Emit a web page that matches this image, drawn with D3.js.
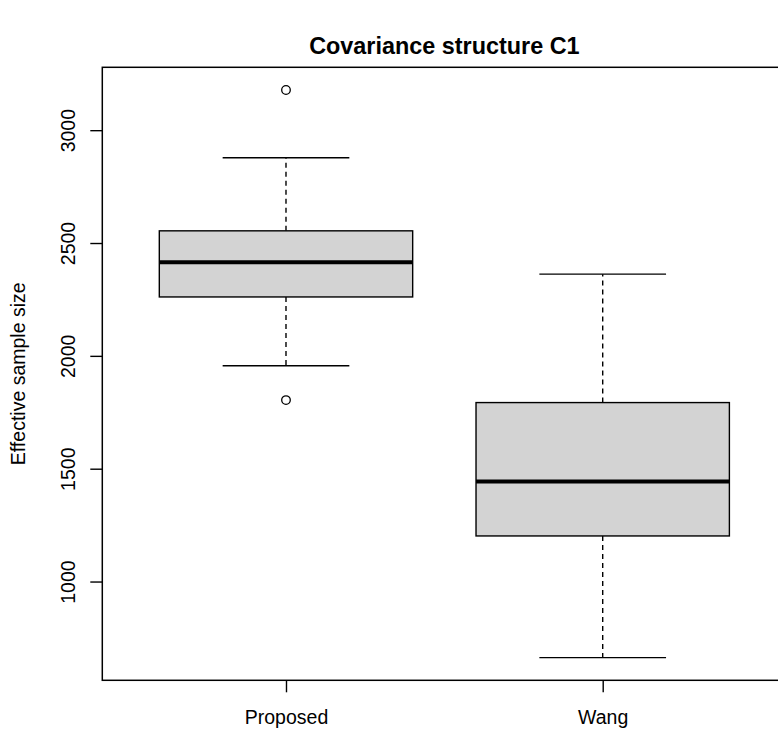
<!DOCTYPE html>
<html>
<head>
<meta charset="utf-8">
<script src="https://cdn.jsdelivr.net/npm/d3@7"></script>
<style>
  body { margin: 0; background: #fff; }
  svg text { font-family: "Liberation Sans", Arial, sans-serif; fill: #000; }
</style>
</head>
<body>
<svg id="chart"></svg>
<script>
// box statistics
const groups = ["Proposed", "Wang"];
const whiskerLow = [1956, 663];
const q1 = [2261, 1202];
const medians = [2415, 1443];
const q3 = [2554, 1793];
const whiskerHigh = [2878, 2362];
const outliers = [[3178, 1804], []];
const yTicks = [1000, 1500, 2000, 2500, 3000];

const width = 778, height = 730;
const margin = {top: 67.3, bottom: 680.3, left: 102.3, right: 786.4};

const svg = d3.select("#chart")
    .attr("width", width)
    .attr("height", height);

// R style range: extend 4% either side
const allVals = whiskerLow.concat(whiskerHigh, outliers.flat());
const lo = d3.min(allVals), hi = d3.max(allVals);
const pad = (hi - lo) * 0.04;

const y = d3.scaleLinear()
    .domain([lo - pad, hi + pad])
    .range([margin.bottom, margin.top]);

const x = d3.scaleLinear()
    .domain([0.42, 2.58])
    .range([margin.left, margin.right]);

const boxHalf = 0.4, stapleHalf = 0.2;

const boxes = svg.selectAll("g.box")
    .data(groups)
    .enter()
    .append("g")
    .attr("class", "box");

// whiskers (dashed)
boxes.append("line")
    .attr("x1", (d, i) => x(i + 1)).attr("x2", (d, i) => x(i + 1))
    .attr("y1", (d, i) => y(q3[i])).attr("y2", (d, i) => y(whiskerHigh[i]))
    .attr("stroke", "#000").attr("stroke-width", 1.4)
    .attr("stroke-dasharray", "5,4");
boxes.append("line")
    .attr("x1", (d, i) => x(i + 1)).attr("x2", (d, i) => x(i + 1))
    .attr("y1", (d, i) => y(q1[i])).attr("y2", (d, i) => y(whiskerLow[i]))
    .attr("stroke", "#000").attr("stroke-width", 1.4)
    .attr("stroke-dasharray", "5,4");

// staples
[whiskerHigh, whiskerLow].forEach(function(arr) {
  boxes.append("line")
      .attr("x1", (d, i) => x(i + 1 - stapleHalf))
      .attr("x2", (d, i) => x(i + 1 + stapleHalf))
      .attr("y1", (d, i) => y(arr[i]))
      .attr("y2", (d, i) => y(arr[i]))
      .attr("stroke", "#000").attr("stroke-width", 1.4);
});

// box body
boxes.append("rect")
    .attr("x", (d, i) => x(i + 1 - boxHalf))
    .attr("width", (d, i) => x(i + 1 + boxHalf) - x(i + 1 - boxHalf))
    .attr("y", (d, i) => y(q3[i]))
    .attr("height", (d, i) => y(q1[i]) - y(q3[i]))
    .attr("fill", "#d3d3d3")
    .attr("stroke", "#000").attr("stroke-width", 1.4);

// median
boxes.append("line")
    .attr("x1", (d, i) => x(i + 1 - boxHalf))
    .attr("x2", (d, i) => x(i + 1 + boxHalf))
    .attr("y1", (d, i) => y(medians[i]))
    .attr("y2", (d, i) => y(medians[i]))
    .attr("stroke", "#000").attr("stroke-width", 4);

// outliers
boxes.each(function(d, i) {
  d3.select(this).selectAll("circle")
      .data(outliers[i])
      .enter()
      .append("circle")
      .attr("cx", x(i + 1))
      .attr("cy", v => y(v))
      .attr("r", 4.3)
      .attr("fill", "none")
      .attr("stroke", "#000").attr("stroke-width", 1.3);
});

// frame
svg.append("rect")
    .attr("x", margin.left)
    .attr("y", margin.top)
    .attr("width", margin.right - margin.left)
    .attr("height", margin.bottom - margin.top)
    .attr("fill", "none")
    .attr("stroke", "#000").attr("stroke-width", 1.5);

// y axis
const yAxis = svg.append("g")
    .attr("transform", "translate(" + margin.left + ",0)")
    .call(d3.axisLeft(y).tickValues(yTicks).tickSize(12).tickFormat(d3.format("d")));
yAxis.select(".domain").remove();
yAxis.selectAll(".tick line").attr("stroke", "#000").attr("stroke-width", 1.4);
yAxis.selectAll(".tick text")
    .attr("x", null).attr("dy", null)
    .attr("transform", "translate(-27,0) rotate(-90)")
    .attr("text-anchor", "middle")
    .style("font-size", "19.5px")
    .style("font-family", "'Liberation Sans', Arial, sans-serif");

// x axis
const xAxis = svg.append("g")
    .attr("transform", "translate(0," + margin.bottom + ")")
    .call(d3.axisBottom(x).tickValues([1, 2]).tickSize(12)
      .tickFormat(d => groups[d - 1]));
xAxis.select(".domain").remove();
xAxis.selectAll(".tick line").attr("stroke", "#000").attr("stroke-width", 1.4);
xAxis.selectAll(".tick text")
    .attr("y", 44).attr("dy", null)
    .style("font-size", "19.5px")
    .style("font-family", "'Liberation Sans', Arial, sans-serif");

// title
svg.append("text")
    .attr("x", (margin.left + margin.right) / 2)
    .attr("y", 54)
    .attr("text-anchor", "middle")
    .style("font-size", "23.4px")
    .style("font-weight", "bold")
    .text("Covariance structure C1");

// y label
svg.append("text")
    .attr("transform", "translate(25," + (margin.top + margin.bottom) / 2 + ") rotate(-90)")
    .attr("text-anchor", "middle")
    .style("font-size", "19.5px")
    .text("Effective sample size");
</script>
</body>
</html>
